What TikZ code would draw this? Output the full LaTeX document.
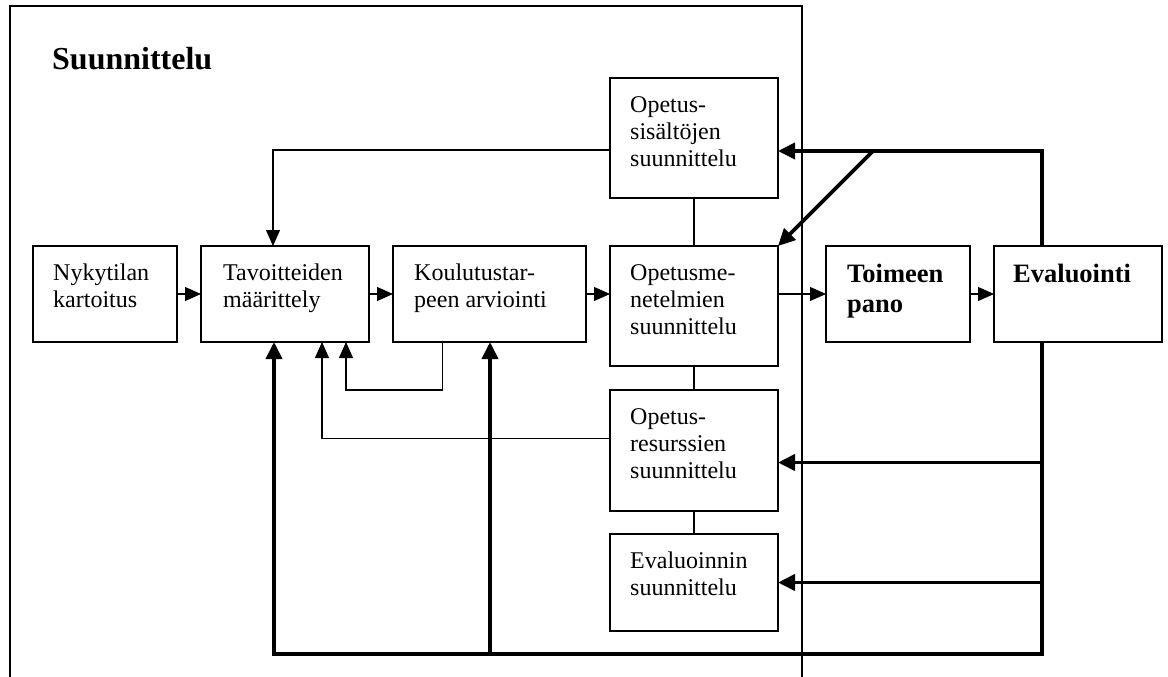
\documentclass[tikz,border=0pt]{standalone}
\usepackage{fontspec}
\setmainfont{Liberation Serif}
\usetikzlibrary{arrows.meta}
% fixed first-line height so text tops line up from box to box
\newcommand\lnstrut{\rule{0pt}{20pt}}
\newcommand\blnstrut{\rule{0pt}{22pt}}
\begin{document}
\begin{tikzpicture}[x=1pt,y=-1pt,
  box/.style={draw, line width=1.3pt, fill=white, inner sep=0pt, outer sep=0pt, anchor=north west},
  txt/.style={anchor=north west, inner sep=0pt, align=left, font=\fontsize{24}{27}\selectfont},
  btxt/.style={anchor=north west, inner sep=0pt, align=left, font=\fontsize{26.5}{30}\selectfont\bfseries},
  conn/.style={line width=1.1pt},
  fb/.style={line width=3.8pt},
  arr/.style={-{Triangle[length=16pt,width=14pt]}},
  barr/.style={-{Triangle[length=17pt,width=16pt]}},
]
\fill[white] (0,0) rectangle (1168,677);
\useasboundingbox (0,0) rectangle (1168,677);

% planning frame, open at the bottom
\draw[line width=1.3pt] (10,677) -- (10,6) -- (802,6) -- (802,677);
\node[anchor=base west, inner sep=0pt, font=\fontsize{32}{36}\selectfont\bfseries] (title) at (52,70) {Suunnittelu};

% boxes
\node[box, minimum width=144pt, minimum height=96pt] (nyk) at (33,246) {};
\node[box, minimum width=168pt, minimum height=96pt] (tav) at (201,246) {};
\node[box, minimum width=193pt, minimum height=96pt] (kou) at (393,246) {};
\node[box, minimum width=168pt, minimum height=120pt] (sis) at (610,78) {};
\node[box, minimum width=168pt, minimum height=120pt] (men) at (610,246) {};
\node[box, minimum width=168pt, minimum height=121pt] (res) at (610,390) {};
\node[box, minimum width=168pt, minimum height=97pt] (evs) at (610,534) {};
\node[box, minimum width=144pt, minimum height=96pt] (toi) at (826,246) {};
\node[box, minimum width=168pt, minimum height=96pt] (eva) at (994,246) {};

% box texts
\node[txt] (nykT) at (53,260) {\lnstrut Nykytilan\\kartoitus};
\node[txt] (tavT) at (223,260) {\lnstrut Tavoitteiden\\määrittely};
\node[txt] (kouT) at (414,260) {\lnstrut Koulutustar-\\peen arviointi};
\node[txt] (sisT) at (630,92) {\lnstrut Opetus-\\sisältöjen\\suunnittelu};
\node[txt] (menT) at (630,260) {\lnstrut Opetusme-\\netelmien\\suunnittelu};
\node[txt] (resT) at (630,404) {\lnstrut Opetus-\\resurssien\\suunnittelu};
\node[txt] (evsT) at (630,548) {\lnstrut Evaluoinnin\\suunnittelu};
\node[btxt] (toiT) at (847,260) {\blnstrut Toimeen\\pano};
\node[btxt] (evaT) at (1013,260) {\blnstrut Evaluointi};

% main flow
\draw[conn,arr] (nyk.east) -- (tav.west);
\draw[conn,arr] (tav.east) -- (kou.west);
\draw[conn,arr] (kou.east) -- (kou.east -| men.west);
\draw[conn,arr] (men.east |- toi.west) -- (toi.west);
\draw[conn,arr] (toi.east) -- (eva.west);

% column of design tasks
\draw[conn] (sis) -- (men);
\draw[conn] (men) -- (res);
\draw[conn] (res) -- (evs);

% thin returns to goal setting
\draw[conn,arr] ([yshift=-12pt]sis.west) -| ([xshift=-12pt]tav.north);
\draw[conn,arr] ([yshift=12pt]res.west) -| ([xshift=37pt]tav.south);
\coordinate (kouOut) at ([xshift=-47pt]kou.south);
\draw[conn,arr] (kouOut) -- ++(0,48) -| ([xshift=61pt]tav.south);

% evaluation feedback
\coordinate (fbTop) at (1042,151);
\coordinate (fbBot) at (1042,654);
\coordinate (diagStart) at (873,151);
\coordinate (botL) at (274,654);
\coordinate (botM) at (490,654);
\coordinate (resIn) at ([yshift=-12pt]res.east);
\draw[fb,barr] ([xshift=-36pt]eva.north) -- (fbTop) -- ([yshift=-13pt]sis.east);
\draw[fb,barr] (diagStart) -- (men.north east);
\draw[fb,barr] ([xshift=-36pt]eva.south) -- (fbBot) -- (botL) -- (botL |- tav.south);
\draw[fb,barr] (botM) -- (botM |- kou.south);
\draw[fb,barr] (resIn -| fbTop) -- (resIn);
\draw[fb,barr] (evs.east -| fbTop) -- (evs.east);
\end{tikzpicture}
\end{document}
